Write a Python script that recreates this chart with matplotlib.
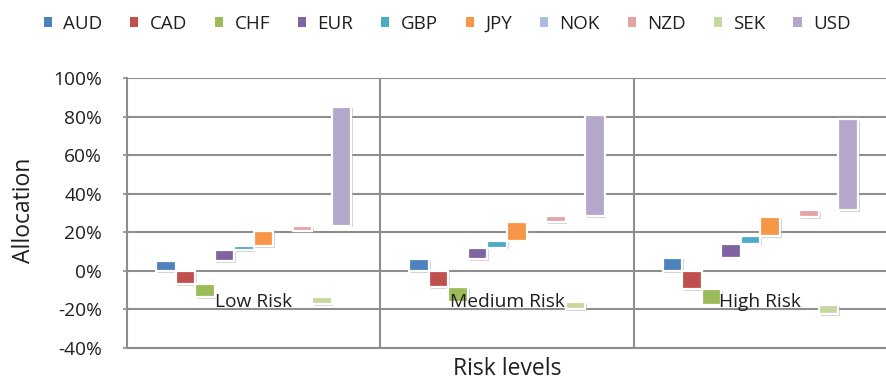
#!/usr/bin/env python3
# -*- coding: utf-8 -*-

import matplotlib
matplotlib.use('Agg')
import matplotlib.pyplot as plt
import matplotlib.patheffects as pe
from matplotlib.patches import Patch
import numpy as np

currencies = ['AUD', 'CAD', 'CHF', 'EUR', 'GBP', 'JPY', 'NOK', 'NZD', 'SEK', 'USD']
risk_levels = ['Low Risk', 'Medium Risk', 'High Risk']

# allocation (%) per currency, one list per risk level
low_risk = [4.9, -6.9, -6.6, 5.8, 2.2, 7.7, 0.0, 2.9, -3.8, 61.7]
medium_risk = [6.1, -8.6, -7.3, 6.0, 3.6, 9.4, 0.0, 3.3, -3.8, 52.5]
high_risk = [6.9, -9.4, -8.2, 7.2, 3.8, 9.8, 0.0, 3.8, -4.8, 47.3]

y_ticks = [-40, -20, 0, 20, 40, 60, 80, 100]
y_tick_labels = ['-40%', '-20%', '0%', '20%', '40%', '60%', '80%', '100%']

colors = ['#4f81bd', '#c0504d', '#9bbb59', '#8064a2', '#4bacc6',
          '#f79646', '#a9bde3', '#e3a5a4', '#c4d8a0', '#b4a7cc']

text_color = '#1f1f1f'
grid_color = '#8e8e8e'


def main():
    plt.rcParams['font.family'] = ['Open Sans', 'DejaVu Sans']
    plt.rcParams['font.size'] = 13.5

    fig = plt.figure(figsize=(8.87, 3.81), dpi=100)
    ax = fig.add_axes([127 / 887, 1 - 348 / 381, 1 - 127 / 887, 270 / 381])

    alloc = np.array([low_risk, medium_risk, high_risk])
    n = len(currencies)
    width = 0.077
    offsets = (np.arange(n) - (n - 1) / 2.0) * width

    shadow = [pe.SimplePatchShadow(offset=(1.2, -1.2), shadow_rgbFace='#9a9a9a', alpha=0.45),
              pe.Normal()]

    # positive values stack upward from 0, negative ones downward
    for g in range(len(risk_levels)):
        up = 0.0
        down = 0.0
        for j in range(n):
            v = alloc[g, j]
            if v >= 0:
                bottom = up
                up += v
            else:
                bottom = down
                down += v
            if v == 0:
                continue
            ax.bar(g + offsets[j], v, width=width, bottom=bottom,
                   color=colors[j], edgecolor='white', linewidth=1.6,
                   zorder=3, path_effects=shadow)

    for g, name in enumerate(risk_levels):
        ax.text(g, -18.9, name, ha='center', va='baseline',
                color=text_color, fontsize=13.8, zorder=5)

    ax.set_xlim(-0.5, len(risk_levels) - 0.5)
    ax.set_ylim(-40, 100)
    ax.set_yticks(y_ticks)
    ax.set_yticklabels(y_tick_labels)
    ax.set_xticks([])
    ax.set_xticks(np.arange(len(risk_levels) - 1) + 0.5, minor=True)
    ax.tick_params(axis='y', direction='out', length=3, width=1.2,
                   color=grid_color, pad=15, labelcolor=text_color,
                   labelsize=13.8)
    ax.tick_params(axis='x', which='both', length=0)

    ax.set_axisbelow(True)
    ax.grid(axis='y', which='major', color=grid_color, linewidth=1.5)
    ax.grid(axis='x', which='minor', color=grid_color, linewidth=1.5)

    for side in ['top', 'right']:
        ax.spines[side].set_visible(False)
    for side in ['left', 'bottom']:
        ax.spines[side].set_color(grid_color)
        ax.spines[side].set_linewidth(1.5)

    ax.set_ylabel('Allocation', fontsize=16.5, color=text_color, va='center')
    ax.yaxis.set_label_coords(-0.1355, 0.51)
    ax.set_xlabel('Risk levels', fontsize=16.5, color=text_color, va='baseline')
    ax.xaxis.set_label_coords(0.5, -0.1)

    handles = [Patch(facecolor=c, edgecolor='none') for c in colors]
    fig.legend(handles, currencies, ncol=n, loc='center',
               bbox_to_anchor=(0.504, 0.937), frameon=False,
               handlelength=0.43, handleheight=0.43, handletextpad=0.6,
               columnspacing=1.5, fontsize=13.5, labelcolor=text_color,
               borderaxespad=0, borderpad=0)

    fig.savefig('out.png', dpi=100)


if __name__ == '__main__':
    main()
